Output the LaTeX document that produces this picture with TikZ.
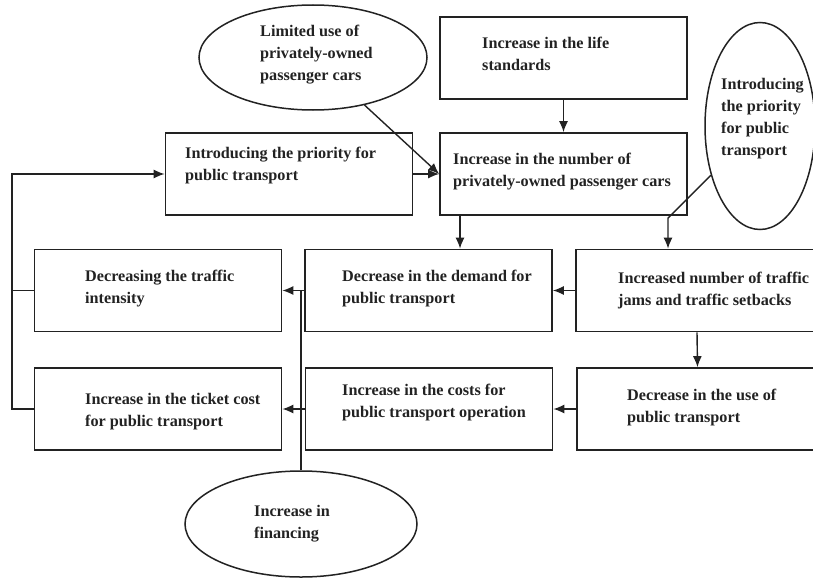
\documentclass[tikz,border=0pt]{standalone}
\usepackage{fontspec}
\setmainfont{Liberation Serif}
\usetikzlibrary{shapes.geometric,arrows.meta}
\definecolor{ink}{HTML}{222222}
\begin{document}
\begin{tikzpicture}[x=1pt,y=-1pt,
  box/.style={draw=ink, line width=1.7pt, minimum width=247pt, minimum height=82pt, inner sep=0pt},
  oval/.style={draw=ink, ellipse, line width=1.5pt, inner sep=0pt},
  txt/.style={anchor=west, align=left, text=ink, font=\bfseries\fontsize{16.2}{22}\selectfont, inner sep=0pt},
  arr/.style={draw=ink, line width=1.4pt, -{Latex[length=11pt,width=9pt]}},
  ln/.style={draw=ink, line width=1.4pt}]
\useasboundingbox (0,0) rectangle (813,578);
% boxes
\node[box] (life) at (563.5,58) {};
\node[box] (cars) at (563.5,174) {};
\node[box] (intro) at (289,174) {};
\node[box] (intensity) at (158,290.5) {};
\node[box] (demand) at (428.5,290.5) {};
\node[box, minimum width=242pt] (jams) at (697,290.5) {};
\node[box] (ticket) at (158,409) {};
\node[box] (costs) at (429,409) {};
\node[box, minimum width=241pt] (use) at (697.5,409) {};
% ovals
\node[oval, minimum width=228pt, minimum height=105pt] (lim) at (313,57.5) {};
\node[oval, minimum width=110pt, minimum height=207pt] (rell) at (760,126) {};
\node[oval, minimum width=232pt, minimum height=106pt] (fin) at (301,524) {};
% texts
\node[txt] (tlim) at (260,55) {Limited use of\\privately-owned\\passenger cars};
\node[txt] (tlife) at (482,54) {Increase in the life\\standards};
\node[txt] (tcars) at (453,172) {Increase in the number of\\privately-owned passenger cars};
\node[txt] (tintro) at (185,166) {Introducing the priority for\\public transport};
\node[txt] (trell) at (721,119) {Introducing\\the priority\\for public\\transport};
\node[txt] (tintensity) at (85,289) {Decreasing the traffic\\intensity};
\node[txt] (tdemand) at (342,289) {Decrease in the demand for\\public transport};
\node[txt] (tjams) at (618,291) {Increased number of traffic\\jams and traffic setbacks};
\node[txt] (tticket) at (85,412) {Increase in the ticket cost\\for public transport};
\node[txt] (tcosts) at (342,403) {Increase in the costs for\\public transport operation};
\node[txt] (tuse) at (627,408) {Decrease in the use of\\public transport};
\node[txt] (tfin) at (254,524) {Increase in\\financing};
% connectors
\draw[arr] (life.south) -- (cars.north);
\draw[arr] (lim) -- (cars.west);
\draw[arr] (intro.east) -- (cars.west);
\draw[arr] (cars.south -| 460,0) -- (demand.north -| 460,0);
\coordinate (j1) at (668,218);
\draw[arr] (rell) -- (j1) -- (j1 |- jams.north);
\draw[arr] (jams.west) -- (demand.east);
\draw[arr] (jams.south) -- (use.north);
\draw[arr] (use.west) -- (costs.east);
\draw[arr] (demand.west) -- (intensity.east);
\draw[arr] (costs.west) -- (ticket.east);
\draw[ln] (fin.north) -- (fin.north |- intensity.east);
\coordinate (lt) at (12,174);
\draw[arr] (ticket.west) -- (ticket.west -| lt) -- (lt) -- (intro.west);
\draw[ln] (intensity.west) -- (intensity.west -| lt);
\end{tikzpicture}
\end{document}
